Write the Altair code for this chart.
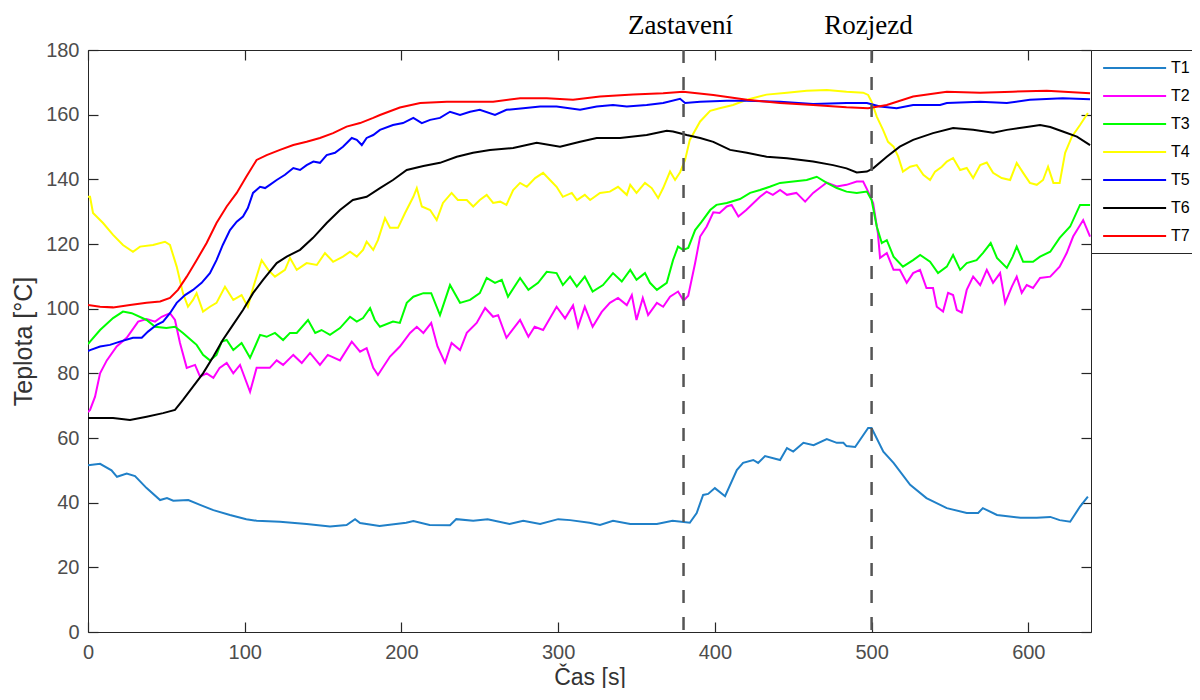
import altair as alt
import pandas as pd

# ---------------- data ----------------
SERIES_NAMES = ["T1", "T2", "T3", "T4", "T5", "T6", "T7"]
SERIES_COLORS = ["#2080c8", "#ff00ff", "#00ff00", "#ffff00", "#0000ff", "#000000", "#ff0000"]

T1 = [(0, 51.6), (7.7, 52.0), (15, 50.0), (18.5, 48.0), (24.7, 49.0), (30, 48.2), (37.4, 44.5), (46, 40.8),
      (50.4, 41.4), (54.4, 40.6), (64, 40.8), (71.5, 39.3), (80, 37.7), (90.6, 36.2), (101, 34.9), (107.6, 34.4),
      (122.5, 34.1), (139.5, 33.4), (154.4, 32.6), (165, 33.1), (170.4, 34.9), (173.6, 33.7), (186, 32.8),
      (203, 33.8), (207.6, 34.3), (218, 33.1), (231, 33.0), (235, 34.9), (245.8, 34.4), (255, 34.9), (269, 33.4),
      (277.7, 34.4), (288.5, 33.4), (300, 34.9), (307.6, 34.6), (320, 33.8), (326.7, 33.1), (335, 34.4),
      (346, 33.4), (363, 33.4), (373, 34.4), (384, 33.8), (388.4, 36.8), (392.5, 42.4), (395.7, 42.7),
      (400, 44.5), (406.5, 42.0), (414, 50.1), (418, 52.3), (424.5, 53.2), (427.6, 52.3), (432, 54.4),
      (441.6, 53.2), (446, 56.9), (450, 55.8), (456.5, 58.5), (463, 57.8), (471.4, 59.7), (477.8, 58.5),
      (482, 58.5), (484, 57.5), (489.5, 57.2), (497.8, 63.1), (500, 63.1), (507.5, 55.8), (514, 52.3),
      (524.6, 45.5), (535, 41.4), (548, 38.3), (560.7, 36.8), (568, 36.8), (571, 38.3), (580, 36.2),
      (595, 35.3), (605.4, 35.3), (614, 35.6), (620, 34.6), (626.7, 34.1), (633, 38.8), (638, 41.9)]

T2 = [(0, 68.0), (1.3, 68.7), (4.5, 72.8), (7.7, 80.0), (12, 84.0), (18.3, 88.3), (24.7, 91.0), (32, 96.0),
      (37.4, 96.8), (42.8, 96.0), (47, 97.5), (52.3, 98.6), (55.5, 96.5), (58.7, 89.4), (63, 81.7), (68.3, 82.6),
      (71.5, 79.0), (75.7, 80.0), (80, 78.6), (84, 81.7), (88.5, 83.2), (92.7, 80.0), (97, 82.6), (103.4, 74.3),
      (107.6, 81.7), (116, 81.7), (120.4, 84.0), (124.5, 82.6), (131, 85.7), (136.4, 83.2), (141.7, 86.3),
      (148, 82.6), (153, 85.7), (160.8, 84.0), (168.3, 89.8), (173.6, 86.7), (177.8, 87.8), (182, 81.7),
      (185, 79.5), (192.7, 85.2), (199, 88.3), (205.5, 92.5), (209.8, 94.4), (214, 92.5), (219, 95.6),
      (223, 88.3), (227.8, 83.3), (232, 89.4), (237.4, 87.2), (241.7, 92.5), (248, 95.6), (253.4, 100.2),
      (258.5, 97.5), (261.7, 98.0), (267, 91.0), (275.7, 96.5), (281, 91.3), (285, 94.4), (290.4, 93.4),
      (299, 100.6), (304.4, 97.0), (309.5, 101.0), (312.7, 94.4), (317, 100.6), (322, 94.4), (327.8, 99.0),
      (333, 101.8), (338.2, 103.3), (343.8, 101.1), (347, 104.2), (350, 96.5), (354, 103.3), (357.4, 98.0),
      (363, 101.8), (367, 100.6), (371.4, 103.7), (376.5, 105.3), (380, 102.5), (383, 104.0), (387.4, 114.1),
      (390.6, 122.3), (394.8, 125.4), (399, 129.8), (403, 129.6), (407.6, 131.6), (410.7, 132.1), (415, 128.5),
      (420, 130.5), (428.8, 134.6), (433, 136.2), (437, 135.2), (441.6, 136.7), (446, 135.2), (452, 135.8),
      (457.6, 133.1), (462.7, 135.8), (471.4, 139.0), (477.8, 137.8), (484, 138.3), (490.5, 139.3),
      (494.6, 139.3), (497.8, 136.2), (501, 132.7), (504, 123.4), (505.4, 115.7), (509.7, 117.2), (514, 112.0),
      (518, 112.0), (522.4, 108.0), (526.5, 111.0), (530.9, 112.0), (535, 106.4), (539.2, 106.4),
      (541.6, 100.6), (545.6, 99.1), (548.8, 104.9), (552, 104.2), (554.4, 99.6), (557.5, 98.8),
      (560.7, 105.8), (564.8, 109.9), (569.3, 107.3), (573.5, 112.0), (577.5, 108.0), (582, 111.0),
      (585.2, 101.8), (589.5, 106.8), (592.6, 109.9), (595.8, 104.9), (599, 107.3), (603, 106.4),
      (607.5, 109.5), (614, 109.9), (620, 113.0), (624.5, 117.2), (628.6, 122.3), (635, 127.4), (639.4, 122.3)]

T3 = [(0, 89.0), (1.3, 89.8), (7.7, 93.4), (16, 97.1), (22.3, 99.1), (27.9, 98.6), (37.4, 96.5), (42.8, 94.4),
      (50, 94.0), (55.5, 94.4), (60.6, 92.5), (67, 89.8), (69.3, 88.8), (73.4, 85.7), (77.8, 84.0), (82, 85.7),
      (85.3, 89.8), (88.5, 90.3), (92.7, 87.2), (98, 89.4), (103.4, 84.8), (106.6, 88.3), (109.8, 91.9),
      (114, 91.3), (119.3, 92.5), (124.5, 90.3), (128.9, 92.5), (133.2, 92.5), (140.4, 96.5), (145, 92.5),
      (149, 93.4), (154.4, 91.9), (160.8, 94.0), (167.2, 97.5), (171.5, 96.0), (175.5, 97.1), (180, 100.2),
      (183, 96.5), (186.3, 94.4), (194.6, 96.0), (199, 95.6), (203.4, 101.8), (207.6, 103.7), (214, 104.8),
      (219, 104.8), (224.6, 98.0), (231, 107.3), (237.4, 101.8), (243.8, 102.7), (250, 104.8), (254.4, 109.5),
      (259.7, 108.0), (264, 108.9), (268, 103.7), (275.7, 109.5), (281, 105.8), (287.2, 108.0), (292.7, 111.4),
      (299, 111.0), (303, 107.3), (307.6, 109.9), (311.9, 106.8), (317, 109.9), (322, 105.3), (328.6, 107.3),
      (335, 111.0), (340.6, 108.4), (346, 112.0), (350, 108.9), (355.4, 111.0), (358.6, 108.0), (363, 105.8),
      (369.3, 108.0), (373.3, 115.0), (376.5, 119.2), (379.7, 118.2), (383, 118.8), (387.4, 124.3),
      (391.6, 126.9), (397, 130.5), (401, 132.1), (407.6, 132.7), (416, 133.9), (422.5, 135.8), (428.8, 136.7),
      (435, 137.7), (441.6, 138.9), (450, 139.3), (458.6, 139.8), (465, 140.8), (471.4, 138.9), (477.8, 137.3),
      (484, 136.2), (490.5, 135.8), (497, 136.2), (500, 133.6), (503.3, 125.4), (506.5, 120.3), (509.7, 121.2),
      (514, 116.1), (520, 113.0), (526.5, 115.0), (531, 116.6), (537.3, 114.5), (542.4, 111.0), (548, 113.0),
      (552, 116.6), (556.5, 112.0), (560.7, 114.1), (567, 115.0), (571, 117.2), (576, 120.3), (580, 115.7),
      (586.3, 112.6), (590, 116.1), (592.6, 119.2), (596.7, 114.5), (603, 114.5), (607.5, 116.1), (614, 117.6),
      (620, 121.9), (626.7, 125.4), (633, 132.1), (639.4, 132.1)]

T4 = [(0, 134.6), (1.3, 134.6), (3.2, 129.6), (9.6, 126.5), (16, 122.8), (22.3, 119.7), (28.7, 117.6),
      (33.2, 119.2), (41.5, 119.7), (49.1, 120.7), (52.3, 119.7), (56.6, 113.0), (60.6, 104.8), (63.8, 100.6),
      (67, 102.7), (69.3, 104.8), (73.4, 99.1), (77.8, 100.6), (82, 101.8), (87.4, 106.8), (92.7, 102.7),
      (98, 104.2), (102, 100.6), (105.3, 106.4), (110.8, 115.0), (115, 112.0), (119.3, 109.9), (125.7, 112.0),
      (128.9, 115.7), (133.2, 112.0), (139.5, 114.1), (146, 113.5), (151.2, 117.2), (156.4, 114.5),
      (162.7, 116.1), (167.2, 117.6), (171.5, 116.1), (175.5, 118.2), (177.8, 120.7), (182, 118.2),
      (185, 121.2), (189.5, 128.0), (192.7, 125.0), (197.8, 125.0), (202.3, 129.6), (207.6, 134.6),
      (209.8, 137.3), (213, 131.6), (218.3, 130.5), (222.5, 127.4), (226.5, 132.7), (232, 135.8), (236, 133.6),
      (241.7, 133.6), (245.8, 131.6), (250, 133.6), (254.4, 135.2), (258.5, 132.7), (263, 133.1), (267, 132.1),
      (271.3, 136.7), (275.7, 138.9), (280, 137.7), (285.3, 140.4), (290.4, 142.0), (294.8, 139.8),
      (299, 137.7), (303, 134.6), (308.7, 135.8), (312, 133.6), (317, 135.2), (320.4, 133.6), (326.7, 135.8),
      (333, 136.2), (338.2, 137.7), (343.8, 135.2), (346, 138.3), (350, 135.8), (355.4, 138.9), (359.7, 137.3),
      (363.8, 134.2), (367, 137.3), (371.4, 142.4), (374.6, 139.8), (377.8, 142.2), (381, 146.0),
      (384, 152.2), (390.6, 157.9), (397, 161.2), (403, 162.0), (411.6, 163.0), (420.4, 164.6), (433, 166.2),
      (446, 166.8), (458.6, 167.4), (471.4, 167.6), (484, 167.1), (494.6, 166.8), (497.8, 166.1), (500, 164.0),
      (503.3, 159.4), (507.3, 155.3), (510.5, 151.6), (514, 150.1), (517, 147.0), (520, 142.4), (524.6, 143.9),
      (528.8, 144.4), (533, 141.4), (537.3, 139.8), (540.5, 142.4), (544.8, 143.9), (548, 145.5), (552, 146.6),
      (556.5, 142.9), (560.7, 143.5), (564.8, 140.4), (569.3, 144.4), (573.5, 145.2), (577.5, 142.0),
      (583, 140.4), (588.4, 139.8), (592.6, 145.1), (596.7, 142.0), (601, 138.9), (605.4, 138.3),
      (609.4, 139.8), (612.6, 143.9), (616, 138.9), (620, 138.9), (623.5, 148.2), (627.8, 153.2),
      (633, 156.8), (638, 160.5)]

T5 = [(0, 86.9), (1.3, 87.2), (7.7, 88.3), (14, 88.8), (20.4, 89.8), (28.7, 91.0), (34.3, 91.0), (38.3, 92.9),
      (43.8, 95.0), (47.9, 96.0), (52.3, 98.6), (56.6, 101.8), (61.9, 104.2), (67, 105.8), (72.5, 108.0),
      (77.8, 111.0), (82, 115.0), (86, 119.7), (90.6, 124.3), (94.9, 126.9), (98.9, 128.5), (102, 131.1),
      (105.3, 135.8), (109.8, 137.7), (113, 137.3), (116, 138.3), (120.4, 139.8), (125.7, 141.4), (131, 143.5),
      (135.3, 142.9), (139.5, 144.4), (143.8, 145.5), (148, 145.1), (152.3, 147.5), (157.6, 148.2),
      (162.7, 150.1), (168.3, 152.8), (171.5, 152.2), (174.7, 150.6), (177.8, 152.8), (182, 153.7),
      (186.3, 155.3), (194.6, 156.8), (201, 157.4), (207.6, 159.0), (213, 157.4), (218.3, 158.4),
      (224.6, 159.0), (231, 160.9), (237.4, 159.9), (243.8, 160.9), (250, 161.5), (259.7, 159.9), (267, 161.5),
      (277.7, 162.0), (288.5, 162.5), (299, 162.5), (314, 161.5), (324.6, 162.5), (335, 163.0), (343.8, 162.5),
      (356.5, 163.0), (367, 163.6), (377.8, 164.9), (381, 163.6), (390.6, 164.0), (407.6, 164.3), (420, 164.3),
      (441.6, 164.0), (462.7, 163.3), (484, 163.6), (497, 163.6), (505.4, 162.5), (516, 162.0), (526.5, 163.0),
      (543.7, 163.0), (548, 163.6), (569.3, 164.0), (586.3, 163.6), (601, 164.6), (622, 165.1), (639.4, 164.8)]

T6 = [(0, 66.2), (16, 66.2), (26.8, 65.6), (37.4, 66.6), (47.9, 67.7), (55.5, 68.7), (60.6, 71.8), (67, 75.9),
      (73.4, 80.0), (80, 85.2), (86, 90.3), (92.5, 95.0), (98.9, 99.6), (105.3, 104.8), (111.7, 108.9),
      (120.4, 114.1), (126.8, 116.1), (135.3, 118.2), (143.6, 121.9), (152.3, 126.5), (160.8, 130.5),
      (169, 133.6), (177.8, 134.6), (186.3, 137.3), (194.6, 139.8), (203.4, 142.9), (214, 144.1),
      (224.6, 145.1), (235.3, 147.0), (245.7, 148.2), (256.5, 149.1), (271.3, 149.7), (286.3, 151.3),
      (301.2, 150.1), (314, 151.6), (324.6, 152.8), (339.5, 152.8), (356.5, 153.7), (369.3, 155.0),
      (373.3, 154.8), (382, 153.7), (390.6, 152.8), (399, 151.6), (409.7, 149.1), (420.4, 148.2), (433, 147.0),
      (446, 146.5), (462.7, 145.5), (475.4, 144.4), (484, 143.4), (490.5, 142.1), (497, 142.4), (501, 143.4),
      (509.7, 147.0), (518, 150.1), (526.5, 152.2), (539.2, 154.3), (552, 155.9), (564.8, 155.3),
      (577.5, 154.4), (586.3, 155.3), (599, 156.2), (607.5, 156.8), (614, 156.2), (622, 154.8), (631, 153.2),
      (639.4, 150.6)]

T7 = [(0, 101.1), (7.7, 100.6), (16, 100.4), (26.8, 101.1), (37.4, 101.8), (46, 102.2), (52.3, 103.3),
      (57.4, 105.8), (63, 109.9), (69.3, 115.0), (75.7, 120.3), (82, 126.5), (88.5, 131.6), (94.9, 135.8),
      (101, 140.8), (107.6, 146.0), (114, 147.5), (122.5, 149.1), (131, 150.6), (139.5, 151.6), (148, 152.8),
      (156.4, 154.3), (165, 156.3), (173.6, 157.4), (182, 159.0), (186.3, 159.9), (199, 162.2), (212, 163.6),
      (229, 164.0), (245.8, 164.0), (258.5, 164.0), (275.7, 165.1), (292.7, 165.1), (309.5, 164.6),
      (326.7, 165.6), (347.8, 166.2), (367, 166.6), (379.7, 167.1), (399, 166.1), (420.4, 164.6),
      (441.6, 163.6), (462.7, 163.0), (484, 162.3), (497.8, 162.0), (509.7, 163.0), (526.5, 165.6),
      (548, 167.1), (569.3, 166.8), (590, 167.1), (611.8, 167.4), (639.4, 166.6)]

EVENT_T = [380, 500]
EVENT_LABELS = ["Zastavení", "Rozjezd"]

X_TICKS = [0, 100, 200, 300, 400, 500, 600]
Y_TICKS = [0, 20, 40, 60, 80, 100, 120, 140, 160, 180]
X_DOMAIN = [0, 640]
Y_DOMAIN = [0, 180]

# ---------------- tables ----------------
rows = []
for name, pts in zip(SERIES_NAMES, [T1, T2, T3, T4, T5, T6, T7]):
    for i, (t, v) in enumerate(pts):
        rows.append({"series": name, "t": t, "v": v, "i": i})
df = pd.DataFrame(rows)
events = pd.DataFrame({"t": EVENT_T, "label": EVENT_LABELS})

W, H = 1003, 582
xs = alt.Scale(domain=X_DOMAIN, nice=False, zero=False)
ys = alt.Scale(domain=Y_DOMAIN, nice=False)

AX = "#262626"

lines = alt.Chart(df).mark_line(strokeWidth=2, clip=True).encode(
    x=alt.X("t:Q", scale=xs, axis=alt.Axis(
        title="Čas [s]", values=X_TICKS, ticks=False, domain=False, grid=False,
        labelFlush=False, labelPadding=10, labelFontSize=20, titleFontSize=23,
        titleBaseline="alphabetic", titleY=52)),
    y=alt.Y("v:Q", scale=ys, axis=alt.Axis(
        title="Teplota [°C]", values=Y_TICKS, ticks=False, domain=False, grid=False,
        labelFlush=False, labelPadding=9, titlePadding=9, labelFontSize=20, titleFontSize=25)),
    color=alt.Color("series:N", scale=alt.Scale(domain=SERIES_NAMES, range=SERIES_COLORS),
                    legend=alt.Legend(orient="none", legendX=W, legendY=0, title=None,
                                      symbolType="M-1,0L7,0", symbolSize=248, symbolStrokeWidth=2,
                                      symbolOffset=2,
                                      labelFontSize=16, labelFont="Liberation Sans", labelColor="#000000",
                                      labelOffset=51, padding=9, rowPadding=11,
                                      strokeColor=AX, fillColor="white")),
    order="i:Q",
)

rules = alt.Chart(events).mark_rule(strokeDash=[13, 14], strokeWidth=2.5, color="#555555").encode(
    x=alt.X("t:Q", scale=xs, axis=None),
)

texts = alt.Chart(events).mark_text(font="Liberation Serif", fontSize=27, baseline="alphabetic",
                                    color="#000000", dx=-3).encode(
    x=alt.X("t:Q", scale=xs, axis=None),
    y=alt.value(-16),
    text="label:N",
)

# inside ticks (MATLAB box style): axes flipped to the opposite side
tickA = alt.Chart(df).mark_point(opacity=0).encode(
    x=alt.X("t:Q", scale=xs, axis=alt.Axis(orient="top", offset=-H, values=X_TICKS, labels=False,
                                           ticks=True, tickSize=10, domain=False, grid=False, title=None)),
    y=alt.Y("v:Q", scale=ys, axis=alt.Axis(orient="right", offset=-W, values=Y_TICKS, labels=False,
                                           ticks=True, tickSize=10, domain=False, grid=False, title=None)),
)
tickB = alt.Chart(df).mark_point(opacity=0).encode(
    x=alt.X("t:Q", scale=xs, axis=alt.Axis(orient="bottom", offset=-H, values=X_TICKS, labels=False,
                                           ticks=True, tickSize=10, domain=False, grid=False, title=None)),
    y=alt.Y("v:Q", scale=ys, axis=alt.Axis(orient="left", offset=-W, values=Y_TICKS, labels=False,
                                           ticks=True, tickSize=10, domain=False, grid=False, title=None)),
)

chart = alt.layer(lines, rules, texts, tickA, tickB).resolve_axis(
    x="independent", y="independent"
).properties(
    width=W, height=H,
    autosize=alt.AutoSizeParams(type="none"),
    padding={"left": 80, "top": 42, "right": 101, "bottom": 56},
).configure_view(
    stroke=AX, strokeWidth=1
).configure_axis(
    labelFont="Liberation Sans", titleFont="Liberation Sans",
    labelColor="#4d4d4d", titleColor="#333333", titleFontWeight="normal",
    tickColor=AX, tickWidth=1.2,
)

chart.save("out.html", embed_options={"renderer": "svg", "actions": False})
